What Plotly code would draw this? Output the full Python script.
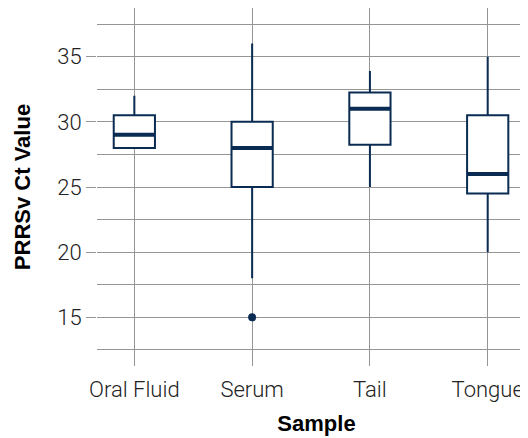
import plotly.graph_objects as go

# Box statistics (PRRSv Ct values per sample type)
samples = ["Oral Fluid", "Serum", "Tail", "Tongue"]
q1 = [28.0, 25.0, 28.25, 24.5]
median = [29.0, 28.0, 31.0, 26.0]
q3 = [30.5, 30.0, 32.25, 30.5]
lower_fence = [28.0, 18.0, 25.0, 20.0]
upper_fence = [32.0, 36.0, 33.9, 35.0]

# outlying points
outlier_sample = ["Serum"]
outlier_value = [15.0]

navy = "#0a2b52"
grid = "#959595"

fig = go.Figure()

fig.add_trace(go.Box(
    x=samples, q1=q1, median=median, q3=q3,
    lowerfence=lower_fence, upperfence=upper_fence,
    boxpoints=False, fillcolor="white", whiskerwidth=0,
    line=dict(color=navy, width=2),
    hoverinfo="skip",
))

# thicker median bar drawn as a flat box on top
fig.add_trace(go.Box(
    x=samples, q1=median, median=median, q3=median,
    lowerfence=median, upperfence=median,
    boxpoints=False, fillcolor="rgba(0,0,0,0)", whiskerwidth=0,
    line=dict(color=navy, width=4),
    hoverinfo="skip",
))

fig.add_trace(go.Scatter(
    x=outlier_sample, y=outlier_value, mode="markers",
    marker=dict(color=navy, size=8),
))

title_font = dict(family="Liberation Sans", size=22, weight="bold", color="black")

fig.update_layout(
    width=528, height=438,
    margin=dict(l=89, r=0, t=0, b=80),
    plot_bgcolor="white", paper_bgcolor="white",
    showlegend=False,
    boxmode="overlay", boxgap=0.5,
    font=dict(family="Roboto", size=22, color="#222222", weight=300),
)

fig.update_xaxes(
    range=[-0.317, 3.41], automargin=False,
    showgrid=True, gridcolor=grid, gridwidth=1,
    showline=False, zeroline=False, ticks="",
    ticklabelstandoff=8,
    tickfont=dict(size=22),
    title=dict(text="Sample", font=title_font, standoff=14),
)

fig.update_yaxes(
    range=[11.27, 38.73], automargin=False,
    tick0=0, dtick=5,
    showgrid=True, gridcolor=grid, gridwidth=1,
    ticks="outside", ticklen=10, tickcolor=grid, tickwidth=1,
    minor=dict(tick0=12.5, dtick=5, showgrid=True, gridcolor=grid, gridwidth=1, ticks=""),
    showline=False, zeroline=False,
    tickfont=dict(size=22),
    title=dict(text="PRRSv Ct Value", font=title_font, standoff=20),
)

fig.write_html("out.html")
